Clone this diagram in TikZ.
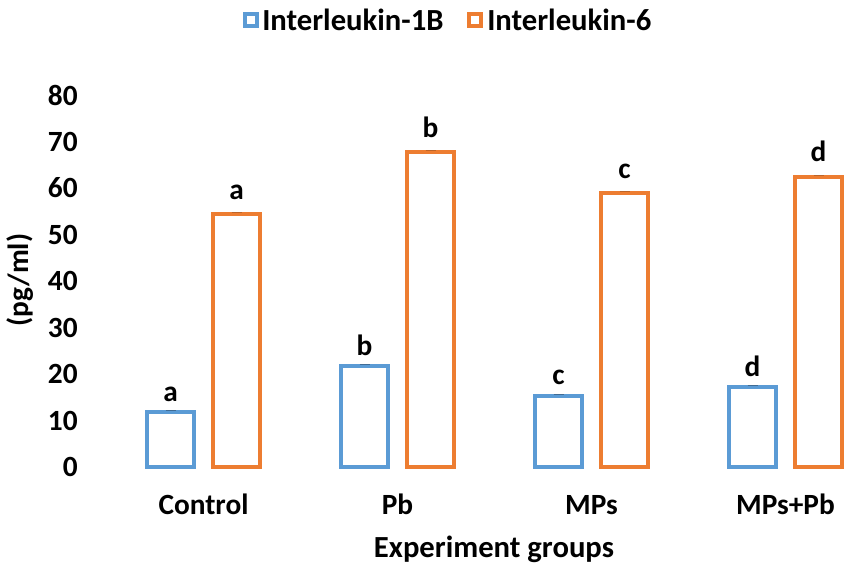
\documentclass[tikz,border=0pt]{standalone}
\usepackage{fontspec}
\setmainfont{Carlito}
\definecolor{ilone}{HTML}{5B9BD5}
\definecolor{ilsix}{HTML}{ED7D31}
\begin{document}
\begin{tikzpicture}[x=0.75pt, y=0.75pt,
    lab/.style={font=\fontsize{22}{26}\selectfont\bfseries, inner sep=0pt},
    biglab/.style={font=\fontsize{23}{27}\selectfont\bfseries, inner sep=0pt},
    bar/.style={line width=3pt}]
    \useasboundingbox (0,0) rectangle (851,572);
    % legend
    \draw[bar, ilone] (244.5,546) rectangle (256.5,558);
    \node[biglab, anchor=west] (legone) at (262,552) {Interleukin-1B};
    \draw[bar, ilsix] (469,546) rectangle (481,558);
    \node[biglab, anchor=west] (legsix) at (487,552) {Interleukin-6};
    % axis
    \foreach \v in {0,10,...,80}
        \node[lab, anchor=east] (tick\v) at (78,105+4.65*\v) {\v};
    \node[lab, rotate=90] (ylabel) at (20,292) {(pg/ml)};
    \node[biglab, anchor=base] (xlabel) at (494,14) {Experiment groups};
    % bars
    \foreach \i/\grp/\one/\six/\ltr in {0/Control/11.8/54.4/a, 1/Pb/21.7/67.7/b, 2/MPs/15.3/58.9/c, 3/MPs+Pb/17.2/62.4/d} {
        \pgfmathsetmacro{\cx}{203.5+194*\i}
        \draw[bar, ilone] (\cx-56.5,105) rectangle (\cx-9.5,105+4.65*\one);
        \draw[bar, ilsix] (\cx+9.5,105) rectangle (\cx+56.5,105+4.65*\six);
        \draw[line width=1pt, ilone!70!black] (\cx-38,106.5+4.65*\one) -- (\cx-28,106.5+4.65*\one);
        \draw[line width=1pt, ilsix!80!black] (\cx+28,106.5+4.65*\six) -- (\cx+38,106.5+4.65*\six);
        \node[lab, anchor=base] (sigone\i) at (\cx-33,116+4.65*\one) {\ltr};
        \node[lab, anchor=base] (sigsix\i) at (\cx+33,120+4.65*\six) {\ltr};
        \node[lab, anchor=base] (grp\i) at (\cx,57) {\grp};
    }
\end{tikzpicture}
\end{document}
